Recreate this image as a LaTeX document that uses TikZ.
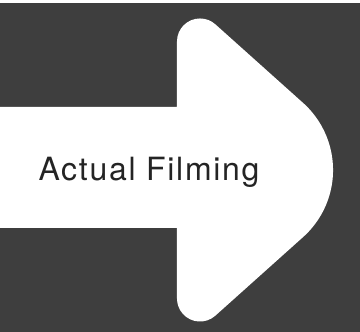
\documentclass[tikz,border=0pt]{standalone}
\usepackage{fontspec}
\newfontfamily\filmfont[LetterSpace=5.3]{TeX Gyre Heros}
\definecolor{backgray}{RGB}{62,62,62}
\definecolor{inkgray}{RGB}{36,36,36}
\begin{document}
\begin{tikzpicture}[x=1pt, y=-1pt, line width=0.5pt]
  \useasboundingbox (0,0) rectangle (360,332);
  \fill[white] (0,0) rectangle (360,332);
  \fill[backgray] (0,3) rectangle (360,332);
  % big arrow: shaft plus rounded head
  \fill[white] (-2,107) -- (177,107) -- (177,41.46)
    arc[start angle=180, end angle=311.84, radius=23] -- (303.1,102.95)
    arc[start angle=-48.16, end angle=48.16, radius=90] -- (215.34,315.67)
    arc[start angle=48.16, end angle=180, radius=23] -- (177,228) -- (-2,228) -- cycle;
  \node[anchor=base, inner sep=0pt, text=inkgray, font=\filmfont\fontsize{32}{38}\selectfont] (label) at (149,181) {Actual Filming};
\end{tikzpicture}
\end{document}
